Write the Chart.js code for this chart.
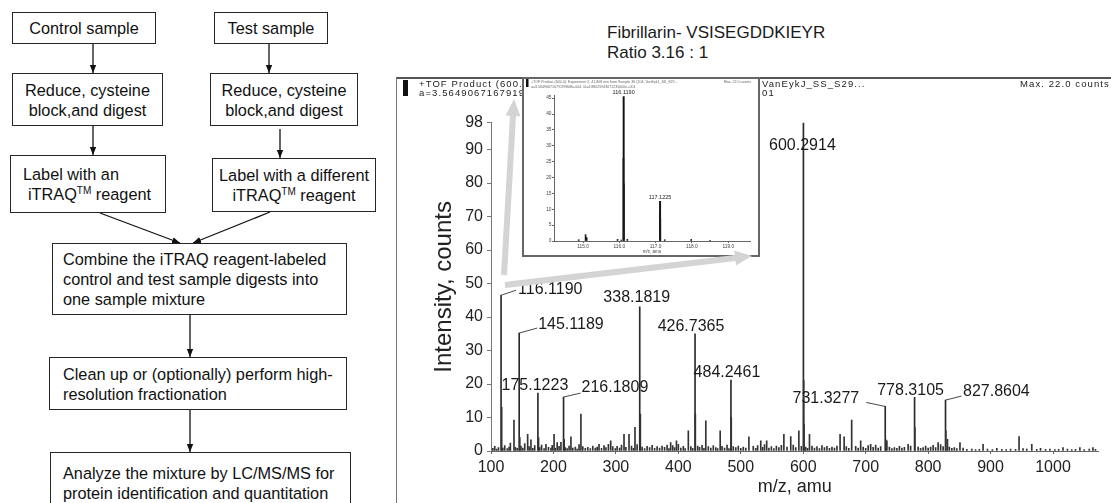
<!DOCTYPE html>
<html>
<head>
<meta charset="utf-8">
<script src="https://cdn.jsdelivr.net/npm/chart.js@4.4.1/dist/chart.umd.min.js"></script>
<style>
  body { margin: 0; width: 1111px; height: 503px; overflow: hidden; background: #fff; position: relative;
         font-family: "Liberation Sans", Arial, sans-serif; color: #111; }
  .box { position: absolute; box-sizing: border-box; border: 1.3px solid #262626; font-size: 16.3px; line-height: 20px;
         display: flex; align-items: center; justify-content: center; text-align: center; background: #fff; }
  .box.left { justify-content: flex-start; text-align: left; }
  sup { font-size: 10px; line-height: 0; vertical-align: 6px; }
  .hdr { position: absolute; font-size: 9.5px; line-height: 8.5px; letter-spacing: 1.1px; color: #222; white-space: nowrap; }
  #frame { position: absolute; left: 396px; top: 77px; width: 730px; height: 440px; box-sizing: border-box;
           border-top: 2.5px solid #555; border-left: 1.6px solid #777; }
  #title { position: absolute; left: 607px; top: 23px; font-size: 17px; line-height: 20px; color: #1a1a1a; white-space: nowrap; }
  #inset { position: absolute; left: 522px; top: 77px; width: 238px; height: 180px; box-sizing: border-box;
           border: 2px solid #666; background: #fff; z-index: 4; }
  #inset canvas { position: absolute; left: 0; top: 0; }
  #mainChart { position: absolute; left: 396px; top: 78px; z-index: 2; }
  #arrows { position: absolute; left: 0; top: 0; z-index: 5; pointer-events: none; }
</style>
</head>
<body>

<!-- flowchart -->
<div class="box" style="left:12px;top:12px;width:144px;height:32px">Control sample</div>
<div class="box" style="left:214px;top:12px;width:114px;height:32px">Test sample</div>
<div class="box" style="left:12px;top:73px;width:151px;height:53px"><div>Reduce, cysteine<br>block,and digest</div></div>
<div class="box" style="left:210px;top:73px;width:148px;height:53px"><div>Reduce, cysteine<br>block,and digest</div></div>
<div class="box left" style="left:10px;top:155px;width:156px;height:58px;padding-left:12px"><div>Label with an<br><span style="margin-left:5px">iTRAQ<sup>TM</sup> reagent</span></div></div>
<div class="box" style="left:212px;top:158px;width:164px;height:54px"><div>Label with a different<br>iTRAQ<sup>TM</sup> reagent</div></div>
<div class="box left" style="left:52px;top:243px;width:295px;height:72px;padding-left:10px"><div>Combine the iTRAQ reagent-labeled<br>control and test sample digests into<br>one sample mixture</div></div>
<div class="box left" style="left:49px;top:357px;width:298px;height:53px;padding-left:13px"><div>Clean up or (optionally) perform high-<br>resolution fractionation</div></div>
<div class="box left" style="left:50px;top:452px;width:301px;height:60px;padding-left:12px;align-items:flex-start;padding-top:10px"><div>Analyze the mixture by LC/MS/MS for<br>protein identification and quantitation</div></div>

<svg width="400" height="503" style="position:absolute;left:0;top:0">
  <defs>
    <marker id="ah" markerWidth="8" markerHeight="10" refX="10" refY="4" orient="auto" markerUnits="userSpaceOnUse" viewBox="0 0 10 8">
      <path d="M0,0 L10,4 L0,8 z" fill="#111"/>
    </marker>
  </defs>
  <g stroke="#111" stroke-width="1.3" marker-end="url(#ah)">
    <line x1="93" y1="44" x2="93" y2="73"/>
    <line x1="269" y1="44" x2="269" y2="73"/>
    <line x1="93" y1="126" x2="93" y2="155"/>
    <line x1="280" y1="129" x2="280" y2="158"/>
    <line x1="100" y1="213" x2="180" y2="243"/>
    <line x1="270" y1="212" x2="193" y2="243"/>
    <line x1="190" y1="315" x2="190" y2="357"/>
    <line x1="190" y1="410" x2="190" y2="452"/>
  </g>
</svg>

<!-- spectrum -->
<div id="title">Fibrillarin- VSISEGDDKIEYR<br>Ratio 3.16 : 1</div>
<div id="frame"></div>
<div style="position:absolute;left:403px;top:80px;width:4.5px;height:16px;background:#111;z-index:3"></div>
<div class="hdr" style="left:419px;top:80px;z-index:3">+TOF Product (600.4): Experiment 2, 41.808 min<br>a=3.56490671679199808e-004, t0=4.880259</div>
<div class="hdr" style="left:762px;top:80px;z-index:3">VanEykJ_SS_S29...<br>01</div>
<div class="hdr" style="left:1020px;top:80px;z-index:3">Max. 22.0 counts</div>
<canvas id="mainChart" width="715" height="425"></canvas>
<div id="inset"><canvas id="insetChart" width="234" height="176"></canvas></div>
<svg id="arrows" width="1111" height="503"></svg>

<script>
const family = '"Liberation Sans", Arial, sans-serif';

// labelled fragment peaks (m/z, counts)
const peakMz = [116.1190, 145.1189, 175.1223, 216.1809, 338.1819, 426.7365, 484.2461, 600.2914, 731.3277, 778.3105, 827.8604];
const peakCounts = [46.5, 35.2, 17.3, 16.1, 43, 35, 21.2, 98, 13.3, 16, 15.2];

// smaller unlabelled peaks
const minorPeaks = [
  [117.12, 13], [136.8, 9.2], [146.12, 4], [158.7, 5], [164, 3.3], [176.12, 4], [188, 2], [201, 5], [206, 2.5],
  [217.18, 3.5], [228, 4.2], [244, 11], [273, 2], [291.7, 3], [313, 5], [321, 5], [330.6, 7.1], [339.18, 11],
  [387.7, 2.5], [397, 3], [416, 6], [427.24, 11], [444, 9], [467, 6], [484.75, 10], [513, 4.2], [532, 3],
  [541.5, 3], [569, 5], [580, 4.3], [593, 6], [600.79, 21], [601.29, 8], [610, 5], [659, 5], [665.5, 4.2],
  [677.6, 9.2], [692, 3], [708, 2], [732.33, 3.3], [734, 3], [768, 2], [778.81, 7], [816, 2.5], [828.36, 6],
  [831, 3.5], [851, 2.5], [888, 2], [945.6, 4.3], [966, 2], [1016, 1], [1043, 1], [1064, 1]
];

// baseline noise
const noisePeaks = [
  [103,0.8],[106,1.4],[109,0.6],[112,1.0],[119,0.9],[122,1.6],[126,0.7],[129,1.2],[131,2.4],[139,1.1],[142,0.8],
  [148,1.5],[151,0.9],[154,2.2],[161,1.3],[167,0.8],[170,1.6],[178,1.0],[181,1.8],[185,0.7],[192,1.1],[196,0.9],
  [198,1.7],[203,0.8],[209,1.4],[212,2.6],[219,1.0],[222,0.7],[225,1.5],[231,0.9],[235,1.2],[238,0.6],[241,1.9],
  [247,1.3],[251,0.8],[255,1.1],[259,0.7],[263,1.5],[267,0.9],[270,1.2],[277,0.8],[281,1.6],[284,1.0],[288,2.0],
  [295,1.3],[299,0.7],[302,1.4],[306,0.9],[309,1.8],[316,1.1],[325,1.5],[328,0.8],[334,1.9],[342,1.2],[346,0.7],
  [350,1.4],[354,1.0],[358,1.7],[362,0.8],[366,1.3],[370,0.9],[374,1.5],[378,1.1],[382,1.8],[385,0.7],[391,1.6],
  [394,1.0],[400,2.0],[404,0.9],[408,1.4],[411,0.7],[420,1.3],[423,0.8],[431,1.5],[434,1.1],[438,1.7],[441,0.8],
  [448,1.3],[452,0.9],[456,1.6],[460,1.0],[463,0.7],[470,1.4],[474,0.9],[478,1.8],[481,0.7],[488,1.3],[492,1.0],
  [496,1.5],[500,0.8],[504,1.2],[508,0.9],[520,1.4],[524,0.8],[527,1.6],[535,1.1],[538,1.9],[545,0.9],[549,1.3],
  [553,0.7],[557,1.5],[561,1.0],[565,1.7],[574,1.2],[584,1.8],[588,1.0],[597,1.4],[604,1.2],[607,0.8],[614,1.5],
  [618,0.9],[622,1.3],[626,0.7],[630,1.6],[634,1.0],[638,1.4],[642,0.8],[646,1.2],[650,0.9],[654,1.5],[669,1.3],
  [673,0.8],[684,1.4],[688,0.9],[696,1.2],[700,0.8],[704,1.6],[712,1.1],[716,1.8],[720,0.9],[724,1.3],[738,1.2],
  [742,0.7],[746,1.0],[750,0.8],[754,1.4],[758,0.9],[762,1.1],[772,1.5],[784,1.2],[788,0.8],[792,1.0],[796,1.5],
  [800,0.9],[804,1.2],[808,1.7],[812,1.0],[820,1.9],[824,1.3],[834,1.2],[838,0.8],[842,1.0],[846,0.7],[856,0.9],
  [862,0.5],[870,0.6],[876,0.4],[882,0.5],[895,0.6],[903,0.4],[910,0.8],[918,0.5],[925,0.4],[932,0.6],[940,0.5],
  [952,0.7],[958,0.6],[974,0.5],[980,0.8],[988,0.5],[995,0.6],[1003,0.4],[1009,0.5],[1023,0.6],[1030,0.4],
  [1036,0.5],[1050,0.4],[1058,0.6],[1068,0.5]
];

const mainXTicks = [100, 200, 300, 400, 500, 600, 700, 800, 900, 1000];
const mainYTicks = [0, 10, 20, 30, 40, 50, 60, 70, 80, 90, 98];

// inset: reporter ion region
const insetMz = [116.1190, 117.1225];
const insetCounts = [45.5, 12.5];
const insetMinor = [
  [116.112, 26], [116.126, 18], [117.116, 9], [117.129, 7], [114.88, 0.4], [115.07, 2], [115.10, 1.1],
  [115.95, 0.5], [116.05, 0.3], [116.22, 0.5], [117.25, 0.4], [117.98, 0.5], [118.5, 0.2]
];
const insetXTicks = [115, 116, 117, 118, 119];
const insetYTicks = [0, 5, 10, 15, 20, 25, 30, 35, 40, 45];

// label placement (pixels relative to the peak top)
const mainPlaces = [
  { align: 'left', dx: 17, dy: -6, lead: [15, -5] },
  { align: 'left', dx: 19, dy: -8, lead: [18, -5] },
  { align: 'center', dx: -3, dy: -7 },
  { align: 'left', dx: 18, dy: -9, lead: [17, -4] },
  { align: 'center', dx: -3, dy: -9 },
  { align: 'center', dx: -4, dy: -7 },
  { align: 'center', dx: -4, dy: -7 },
  { align: 'center', dx: -1, dy: 23 },
  { align: 'right', dx: -26, dy: -8, lead: [-19, -4] },
  { align: 'center', dx: -4, dy: -7 },
  { align: 'left', dx: 17.5, dy: -8, lead: [16, -4] }
];
const insetPlaces = [
  { align: 'center', dx: 0, dy: -4 },
  { align: 'center', dx: 0, dy: -4 }
];

const xy = arr => arr.map(([x, y]) => ({ x, y }));
const zip = (xs, ys) => xs.map((x, i) => ({ x, y: ys[i] }));

function peakLabels(id, mzs, counts, places, size) {
  return {
    id,
    afterDatasetsDraw(chart) {
      const { ctx, scales: { x, y } } = chart;
      ctx.save();
      ctx.font = size + 'px ' + family;
      ctx.fillStyle = '#1a1a1a';
      ctx.strokeStyle = '#333';
      ctx.lineWidth = 0.9;
      ctx.textBaseline = 'middle';
      mzs.forEach((mz, i) => {
        const px = x.getPixelForValue(mz);
        const py = y.getPixelForValue(counts[i]);
        const p = places[i];
        if (p.lead) {
          ctx.beginPath();
          ctx.moveTo(px, py);
          ctx.lineTo(px + p.lead[0], py + p.lead[1]);
          ctx.stroke();
        }
        ctx.textAlign = p.align;
        ctx.fillText(mz.toFixed(4), px + p.dx, py + p.dy);
      });
      ctx.restore();
    }
  };
}

const axisFont = (size) => ({ family, size });

new Chart(document.getElementById('mainChart'), {
  type: 'bar',
  data: {
    datasets: [
      { data: xy(noisePeaks), backgroundColor: '#333', barThickness: 1 },
      { data: xy(minorPeaks), backgroundColor: '#333', barThickness: 1 },
      { data: zip(peakMz, peakCounts), backgroundColor: '#2a2a2a', barThickness: 1 }
    ]
  },
  options: {
    responsive: false,
    animation: false,
    events: [],
    layout: { padding: { top: 44.7, right: 12.4, left: 0, bottom: 0 } },
    datasets: { bar: { grouped: false } },
    plugins: { legend: { display: false }, tooltip: { enabled: false } },
    scales: {
      x: {
        type: 'linear', min: 100, max: 1073, offset: false,
        afterBuildTicks: s => { s.ticks = mainXTicks.map(v => ({ value: v })); },
        afterFit: s => { s.height = 52; },
        ticks: { font: axisFont(16), color: '#222', padding: 4, maxRotation: 0, autoSkip: false,
                 callback: v => String(v) },
        grid: { drawOnChartArea: false, tickLength: 3, color: '#666', offset: false },
        border: { color: '#666' },
        title: { display: true, text: 'm/z, amu', font: axisFont(18), color: '#222', padding: { top: 0, bottom: 5 } }
      },
      y: {
        min: 0, max: 98,
        afterBuildTicks: s => { s.ticks = mainYTicks.map(v => ({ value: v })); },
        afterFit: s => { s.width = 95; },
        ticks: { font: axisFont(16), color: '#222', padding: 4, autoSkip: false },
        grid: { drawOnChartArea: false, tickLength: 4, color: '#777' },
        border: { color: '#777' },
        title: { display: true, text: 'Intensity, counts', font: axisFont(24), color: '#222', padding: { top: 34, bottom: 0 } }
      }
    }
  },
  plugins: [peakLabels('mainLabels', peakMz, peakCounts, mainPlaces, 16)]
});

const insetHeader = {
  id: 'insetHeader',
  afterDraw(chart) {
    const ctx = chart.ctx;
    ctx.save();
    ctx.fillStyle = '#111';
    ctx.fillRect(2, 0, 2.5, 8);
    ctx.fillStyle = '#666';
    ctx.font = '3.6px ' + family;
    ctx.textBaseline = 'top';
    ctx.fillText('+TOF Product (600.4): Experiment 2, 41.808 min from Sample 36 (104, VanEykJ_SS_S29...', 7, 1.5);
    ctx.fillText('a=3.56490671679199808e-004, t0=4.88025943071235600e+001', 7, 6);
    ctx.textAlign = 'right';
    ctx.fillText('Max. 22.0 counts', 227, 1.5);
    ctx.restore();
  }
};

new Chart(document.getElementById('insetChart'), {
  type: 'bar',
  data: {
    datasets: [
      { data: xy(insetMinor), backgroundColor: '#1a1a1a', barThickness: 1 },
      { data: zip(insetMz, insetCounts), backgroundColor: '#111', barThickness: 1.3 }
    ]
  },
  options: {
    responsive: false,
    animation: false,
    events: [],
    layout: { padding: { top: 16, right: 8, left: 0, bottom: 0 } },
    datasets: { bar: { grouped: false } },
    plugins: { legend: { display: false }, tooltip: { enabled: false } },
    scales: {
      x: {
        type: 'linear', min: 114.2, max: 119.6, offset: false,
        afterBuildTicks: s => { s.ticks = insetXTicks.map(v => ({ value: v })); },
        afterFit: s => { s.height = 14; },
        ticks: { font: axisFont(4.8), color: '#444', padding: 0.6, maxRotation: 0, autoSkip: false,
                 callback: v => Number(v).toFixed(1) },
        grid: { drawOnChartArea: false, tickLength: 2, color: '#666', offset: false },
        border: { color: '#666' },
        title: { display: true, text: 'm/z, amu', font: axisFont(4.5), color: '#444', padding: { top: 0, bottom: 0.8 } }
      },
      y: {
        min: 0, max: 46,
        afterBuildTicks: s => { s.ticks = insetYTicks.map(v => ({ value: v })); },
        afterFit: s => { s.width = 30; },
        ticks: { font: axisFont(4.8), color: '#444', padding: 0.5, autoSkip: false },
        grid: { drawOnChartArea: false, tickLength: 2, color: '#666' },
        border: { color: '#666' }
      }
    }
  },
  plugins: [peakLabels('insetLabels', insetMz, insetCounts, insetPlaces, 5.5), insetHeader]
});

// grey pointer arrows from the 116 peak to the inset
function arrowPath(x1, y1, x2, y2, w, hl, hw) {
  const len = Math.hypot(x2 - x1, y2 - y1);
  const ux = (x2 - x1) / len, uy = (y2 - y1) / len;
  const nx = -uy, ny = ux;
  const bx = x2 - ux * hl, by = y2 - uy * hl;
  const pts = [
    [x1 + nx * w / 2, y1 + ny * w / 2], [bx + nx * w / 2, by + ny * w / 2], [bx + nx * hw / 2, by + ny * hw / 2],
    [x2, y2],
    [bx - nx * hw / 2, by - ny * hw / 2], [bx - nx * w / 2, by - ny * w / 2], [x1 - nx * w / 2, y1 - ny * w / 2]
  ];
  return 'M' + pts.map(p => p[0].toFixed(1) + ',' + p[1].toFixed(1)).join(' L') + ' Z';
}
const svg = document.getElementById('arrows');
[[504, 275, 514, 99], [505, 285, 752, 256]].forEach(a => {
  const p = document.createElementNS('http://www.w3.org/2000/svg', 'path');
  p.setAttribute('d', arrowPath(a[0], a[1], a[2], a[3], 6, 17, 15));
  p.setAttribute('fill', '#d4d4d4');
  svg.appendChild(p);
});
</script>
</body>
</html>
